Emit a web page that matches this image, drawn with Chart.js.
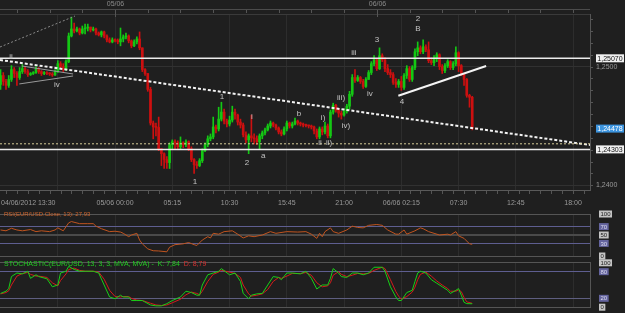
<!DOCTYPE html>
<html>
<head>
<meta charset="utf-8">
<title>EUR/USD 15m</title>
<script src="https://cdn.jsdelivr.net/npm/chart.js@4.4.1/dist/chart.umd.min.js"></script>
<style>
  body { margin: 0; background: #1f1f1f; }
  #wrap { position: relative; width: 625px; height: 313px; overflow: hidden; background: #1f1f1f; }
  #wrap canvas { position: absolute; left: 0; }
</style>
</head>
<body>
<div id="wrap">
  <canvas id="priceChart" width="625" height="210" style="top:0"></canvas>
  <canvas id="rsiChart" width="625" height="54" style="top:206px"></canvas>
  <canvas id="stochChart" width="625" height="55" style="top:258px"></canvas>
</div>
<script>
const FONT = '"Liberation Sans", Arial, sans-serif';
const GREEN = '#14c814', RED = '#cc1010';

// EUR/USD 15 minute bars, bar 0 = 04/06/2012 13:30
const firstOpen = 1.24850;
const closes = [
  1.24925, 1.24875, 1.24842, 1.24892, 1.24975, 1.24942, 1.24908, 1.24958, 1.24983, 1.24958,
  1.24933, 1.24942, 1.24950, 1.24983, 1.24958, 1.24942, 1.24950, 1.24942, 1.24938, 1.24929,
  1.24958, 1.25025, 1.25000, 1.24975, 1.25042, 1.25258, 1.25317, 1.25300, 1.25317, 1.25283,
  1.25317, 1.25325, 1.25333, 1.25308, 1.25317, 1.25283, 1.25267, 1.25292, 1.25258, 1.25225,
  1.25208, 1.25225, 1.25221, 1.25208, 1.25233, 1.25250, 1.25258, 1.25217, 1.25175, 1.25208,
  1.25233, 1.25158, 1.24975, 1.24942, 1.24808, 1.24525, 1.24492, 1.24488, 1.24308, 1.24267,
  1.24217, 1.24192, 1.24342, 1.24367, 1.24358, 1.24325, 1.24358, 1.24342, 1.24367, 1.24308,
  1.24217, 1.24175, 1.24167, 1.24208, 1.24292, 1.24342, 1.24392, 1.24408, 1.24492, 1.24475,
  1.24558, 1.24617, 1.24542, 1.24517, 1.24550, 1.24617, 1.24592, 1.24533, 1.24508, 1.24425,
  1.24383, 1.24417, 1.24400, 1.24392, 1.24367, 1.24417, 1.24442, 1.24467, 1.24500, 1.24525,
  1.24508, 1.24483, 1.24450, 1.24433, 1.24475, 1.24525, 1.24500, 1.24517, 1.24542, 1.24525,
  1.24517, 1.24508, 1.24504, 1.24500, 1.24492, 1.24458, 1.24408, 1.24475, 1.24450, 1.24500,
  1.24417, 1.24617, 1.24675, 1.24633, 1.24608, 1.24592, 1.24625, 1.24667, 1.24767, 1.24908,
  1.24883, 1.24908, 1.24875, 1.24833, 1.24892, 1.24950, 1.25025, 1.25058, 1.24983, 1.25092,
  1.25058, 1.24983, 1.24950, 1.24933, 1.24867, 1.24850, 1.24875, 1.24825, 1.24925, 1.24983,
  1.24892, 1.24992, 1.25125, 1.25158, 1.25125, 1.25167, 1.25142, 1.25050, 1.25033, 1.25075,
  1.25100, 1.25000, 1.24967, 1.25008, 1.25042, 1.24992, 1.25025, 1.25117, 1.25008, 1.24942,
  1.24892, 1.24758, 1.24742, 1.24478
];
const highs = [
  1.24975, 1.24950, 1.24892, 1.24925, 1.25008, 1.24992, 1.24958, 1.24992, 1.25017, 1.25000,
  1.24975, 1.24950, 1.24958, 1.25000, 1.24992, 1.24967, 1.24958, 1.24958, 1.24950, 1.24950,
  1.24975, 1.25050, 1.25042, 1.25025, 1.25058, 1.25283, 1.25417, 1.25367, 1.25333, 1.25325,
  1.25342, 1.25358, 1.25358, 1.25333, 1.25333, 1.25325, 1.25292, 1.25300, 1.25300, 1.25267,
  1.25242, 1.25242, 1.25233, 1.25233, 1.25325, 1.25267, 1.25283, 1.25267, 1.25225, 1.25225,
  1.25250, 1.25292, 1.25158, 1.24983, 1.24942, 1.24825, 1.24542, 1.24525, 1.24575, 1.24308,
  1.24275, 1.24242, 1.24358, 1.24383, 1.24383, 1.24375, 1.24408, 1.24367, 1.24383, 1.24375,
  1.24325, 1.24225, 1.24200, 1.24225, 1.24308, 1.24358, 1.24417, 1.24433, 1.24575, 1.24508,
  1.24658, 1.24700, 1.24642, 1.24558, 1.24583, 1.24667, 1.24642, 1.24600, 1.24558, 1.24525,
  1.24450, 1.24433, 1.24592, 1.24433, 1.24417, 1.24433, 1.24458, 1.24483, 1.24517, 1.24542,
  1.24533, 1.24517, 1.24492, 1.24467, 1.24492, 1.24542, 1.24533, 1.24533, 1.24567, 1.24550,
  1.24533, 1.24525, 1.24517, 1.24508, 1.24508, 1.24500, 1.24475, 1.24492, 1.24492, 1.24533,
  1.24517, 1.24633, 1.24692, 1.24683, 1.24650, 1.24625, 1.24642, 1.24683, 1.24792, 1.24933,
  1.24975, 1.24925, 1.24917, 1.24892, 1.24908, 1.24967, 1.25042, 1.25092, 1.25067, 1.25158,
  1.25108, 1.25075, 1.25017, 1.24975, 1.24950, 1.24900, 1.24892, 1.24917, 1.24942, 1.25008,
  1.25000, 1.25008, 1.25150, 1.25208, 1.25175, 1.25225, 1.25183, 1.25208, 1.25075, 1.25092,
  1.25117, 1.25108, 1.25017, 1.25025, 1.25058, 1.25050, 1.25042, 1.25167, 1.25125, 1.25017,
  1.24942, 1.24900, 1.24767, 1.24750
];
const lows = [
  1.24808, 1.24842, 1.24808, 1.24825, 1.24875, 1.24908, 1.24842, 1.24892, 1.24942, 1.24942,
  1.24917, 1.24925, 1.24933, 1.24942, 1.24942, 1.24925, 1.24933, 1.24933, 1.24925, 1.24917,
  1.24925, 1.24950, 1.24983, 1.24958, 1.24967, 1.25033, 1.25250, 1.25283, 1.25292, 1.25267,
  1.25275, 1.25275, 1.25300, 1.25292, 1.25300, 1.25267, 1.25258, 1.25250, 1.25242, 1.25208,
  1.25200, 1.25200, 1.25208, 1.25192, 1.25175, 1.25208, 1.25233, 1.25200, 1.25158, 1.25167,
  1.25192, 1.25142, 1.24958, 1.24925, 1.24792, 1.24508, 1.24392, 1.24417, 1.24292, 1.24167,
  1.24142, 1.24142, 1.24142, 1.24308, 1.24308, 1.24300, 1.24308, 1.24317, 1.24325, 1.24292,
  1.24200, 1.24100, 1.24142, 1.24158, 1.24192, 1.24283, 1.24325, 1.24375, 1.24392, 1.24442,
  1.24458, 1.24542, 1.24517, 1.24492, 1.24500, 1.24533, 1.24558, 1.24508, 1.24483, 1.24408,
  1.24358, 1.24267, 1.24367, 1.24350, 1.24342, 1.24308, 1.24392, 1.24425, 1.24458, 1.24483,
  1.24492, 1.24467, 1.24433, 1.24417, 1.24425, 1.24458, 1.24483, 1.24483, 1.24508, 1.24508,
  1.24500, 1.24492, 1.24492, 1.24483, 1.24475, 1.24433, 1.24392, 1.24392, 1.24425, 1.24433,
  1.24400, 1.24400, 1.24600, 1.24617, 1.24575, 1.24558, 1.24583, 1.24608, 1.24642, 1.24750,
  1.24867, 1.24875, 1.24858, 1.24817, 1.24825, 1.24892, 1.24933, 1.25008, 1.24967, 1.24975,
  1.25042, 1.24958, 1.24933, 1.24908, 1.24850, 1.24825, 1.24825, 1.24800, 1.24808, 1.24900,
  1.24875, 1.24875, 1.24975, 1.25092, 1.25108, 1.25108, 1.25125, 1.25033, 1.25017, 1.25008,
  1.25042, 1.24975, 1.24942, 1.24950, 1.24992, 1.24975, 1.24975, 1.25008, 1.24958, 1.24925,
  1.24842, 1.24742, 1.24658, 1.24467
];

const timeBars = [0, 42, 63, 84, 105, 126, 147, 168, 189, 210];
const timeLabels = ['04/06/2012 13:30', '05/06 00:00', '05:15', '10:30', '15:45', '21:00', '06/06 02:15', '07:30', '12:45', '18:00'];
const gridBars = [21, 42, 63, 84, 105, 126, 147, 168, 189, 210];
const dateMarks = [[42, '05/06'], [138, '06/06']];
const priceTicks = [1.24, 1.25];

// drawn levels and trend lines (bar, price)
const resistance = 1.25070;
const support = 1.24303;
const supportDotted = 1.24350;
const downTrend = [[-0.2, 1.25056], [216.2, 1.24340]];
const oldTrend = [[-0.2, 1.25165], [27.3, 1.25426]];
const pennantTop = [[7.9, 1.25005], [26.6, 1.24938]];
const pennantBottom = [[6.9, 1.24854], [26.6, 1.24921]];
const riseLine = [[145.9, 1.24755], [178.1, 1.25005]];

const waveLabels = [
  ['ii', 3.8, 1.25081], ['iv', 20.7, 1.24845], ['1', 71.3, 1.24029], ['1', 81.2, 1.24744],
  ['2', 90.4, 1.24189], ['i', 92.2, 1.24576], ['a', 96.3, 1.24248], ['b', 109.5, 1.24601],
  ['ii', 117.2, 1.24357], ['i)', 118.3, 1.24567], ['ii)', 120.5, 1.24357], ['iii)', 124.9, 1.24736],
  ['iv)', 126.7, 1.24500], ['iii', 129.6, 1.25115], ['iv', 135.5, 1.24770], ['3', 138.1, 1.25224],
  ['4', 147.2, 1.24702], ['2', 153.1, 1.25401], ['B', 153.1, 1.25317]
];

const rsiBars = [0,2,4,6,8,11,13,15,18,20,21,23,25,26,29,32,34,35,37,40,42,44,45,47,48,50,51,52,54,56,58,61,62,64,67,69,71,72,74,76,77,78,80,82,85,87,89,91,93,96,99,101,105,109,112,114,116,117,118,119,121,122,124,127,129,131,133,135,138,140,142,145,146,148,149,152,154,155,157,159,161,164,165,167,168,170,172,173];
const rsiValues = [62,60,66,62,60,63,58,60,58,62,67,60,79,82,77,77,77,71,65,58,59,57,54,46,50,54,38,29,17,12.5,12,10,21,27,29,32,27,25,38,46,43,54,52,58,60,52,43,48,46,50,58,54,58,57,58,52,42,54,46,58,67,58,54,62,71,68,67,73,75,73,62,52,52,62,52,60,67,65,58,54,50,52,50,58,48,42,29,27.93];

const stochBars = [0,2,3,4,6,8,10,11,13,14,17,19,21,22,24,25,27,29,31,34,36,38,40,42,44,45,47,48,50,52,55,57,59,61,63,66,68,70,72,73,74,76,78,80,81,84,86,88,89,91,92,94,96,98,100,102,103,105,107,110,112,114,116,118,120,121,122,124,125,127,129,131,133,135,137,140,141,143,145,146,147,149,151,152,153,154,156,158,160,162,164,165,167,168,169,170,171,173];
const stochK = [31,36,42,69,77,75,81,65,73,69,64,46,50,77,81,92,85,81,81,81,77,50,23,19,27,23,23,15,15,15,5,3,3,8,15,23,36,33,27,27,50,73,77,81,87,73,77,58,31,19,27,30,31,50,69,67,62,77,77,75,81,65,41,50,50,65,87,77,69,67,77,77,73,77,90,90,81,46,23,15,15,33,38,58,77,81,77,62,54,46,38,31,38,42,27,11,8,7.84];
const stochD = [30,33,37,50,70,76,78,74,70,70,67,55,48,60,75,85,88,83,81,81,79,63,38,24,23,24,24,20,16,15,9,5,4,5,10,18,28,34,31,28,36,58,74,79,83,79,76,67,50,30,25,27,30,40,58,67,65,70,76,76,78,72,55,46,48,55,72,80,74,69,72,76,75,76,83,90,87,62,35,25,18,24,34,45,62,74,79,70,59,50,42,36,36,39,35,22,12,8.79];

const X_MIN = -0.2, X_MAX = 216.2;
Chart.defaults.font.family = FONT;

const opens = closes.map((c, i) => i === 0 ? firstOpen : closes[i - 1]);
const candleColor = ctx => closes[ctx.dataIndex] >= opens[ctx.dataIndex] ? GREEN : RED;

function seg(points, color, width, dash) {
  return {
    type: 'line',
    data: points.map(p => ({ x: p[0], y: p[1] })),
    borderColor: color, borderWidth: width, borderDash: dash || [],
    pointRadius: 0, fill: false, order: 1
  };
}
const flat = v => [[X_MIN, v], [X_MAX, v]];

function xAxis(height) {
  return {
    type: 'linear', min: X_MIN, max: X_MAX, offset: false,
    afterBuildTicks: s => { s.ticks = gridBars.map(v => ({ value: v })); },
    afterFit: s => { s.height = height; },
    ticks: { display: false },
    grid: { color: '#2d2d2d', drawTicks: false, offset: false },
    border: { display: height > 0, color: '#5a5a5a' }
  };
}

const priceDecor = {
  id: 'priceDecor',
  afterDraw(chart) {
    const { ctx, chartArea: a, scales: { x, y } } = chart;
    const px = v => Math.round(x.getPixelForValue(v)) + 0.5;
    ctx.save();
    ctx.lineWidth = 1;
    ctx.fillStyle = '#4b4b4b';
    ctx.fillRect(0, 9, a.right, 1);
    ctx.fillStyle = '#3a3a3a';
    ctx.fillRect(0, a.top, a.right, 1);
    ctx.strokeStyle = '#555';
    ctx.beginPath();
    for (let b = 6; b < X_MAX; b += 12) { ctx.moveTo(px(b), 10); ctx.lineTo(px(b), 13); }
    for (let b = 2; b < X_MAX; b += 4) { ctx.moveTo(px(b), a.bottom + 1); ctx.lineTo(px(b), a.bottom + 4); }
    for (let k = 0; k <= 14; k++) {
      const yy = Math.round(y.getPixelForValue(1.240 + k * 0.001)) + 0.5;
      ctx.moveTo(a.right, yy); ctx.lineTo(a.right + 3, yy);
    }
    ctx.stroke();

    ctx.font = '7px ' + FONT;
    ctx.fillStyle = '#8c8c8c';
    ctx.textBaseline = 'middle';
    ctx.textAlign = 'center';
    dateMarks.forEach(([b, t]) => {
      ctx.beginPath(); ctx.moveTo(px(b), 10); ctx.lineTo(px(b), 17); ctx.stroke();
      ctx.fillText(t, px(b), 4.5);
    });
    ctx.fillStyle = '#9a9a9a';
    timeBars.forEach((b, k) => {
      ctx.textAlign = k === 0 ? 'left' : 'center';
      ctx.fillText(timeLabels[k], k === 0 ? 1 : x.getPixelForValue(b), 203);
    });

    const tags = [[resistance, '#f0f0f0', '#111'], [closes[closes.length - 1], '#3c94de', '#fff'], [support, '#f0f0f0', '#111']];
    ctx.textAlign = 'center';
    tags.forEach(([v, bg, fg]) => {
      const yy = y.getPixelForValue(v);
      ctx.fillStyle = bg; ctx.fillRect(a.right + 6, yy - 4, 28, 8);
      ctx.fillStyle = fg; ctx.fillText(v.toFixed(5).replace('.', ','), a.right + 20, yy + 0.5);
    });

    ctx.font = '8px ' + FONT;
    ctx.fillStyle = '#c4c4c4';
    waveLabels.forEach(([t, b, p]) => ctx.fillText(t, x.getPixelForValue(b), y.getPixelForValue(p)));
    ctx.restore();
  }
};

new Chart(document.getElementById('priceChart'), {
  type: 'bar',
  data: {
    datasets: [
      seg(flat(resistance), '#ececec', 1.5),
      seg(flat(support), '#ececec', 1.5),
      seg(flat(supportDotted), '#d6cc98', 1, [2, 2]),
      seg(downTrend, '#f4f4f4', 2, [3, 2]),
      seg(oldTrend, '#8a8a8a', 1, [2, 2]),
      seg(pennantTop, '#9a9a9a', 1),
      seg(pennantBottom, '#9a9a9a', 1),
      seg(riseLine, '#f4f4f4', 2),
      { type: 'bar', data: closes.map((c, i) => ({ x: i, y: [opens[i], c] })), backgroundColor: candleColor,
        barThickness: 2, minBarLength: 1, grouped: false, order: 2 },
      { type: 'bar', data: closes.map((c, i) => ({ x: i, y: [lows[i], highs[i]] })), backgroundColor: candleColor,
        barThickness: 1, grouped: false, order: 3 }
    ]
  },
  options: {
    responsive: false, animation: false, devicePixelRatio: 1,
    layout: { padding: { top: 14, left: 0, right: 0, bottom: 0 } },
    plugins: { legend: { display: false }, tooltip: { enabled: false } },
    scales: {
      x: xAxis(20),
      y: {
        position: 'right', min: 1.23961, max: 1.25443,
        afterBuildTicks: s => { s.ticks = priceTicks.map(v => ({ value: v })); },
        afterFit: s => { s.width = 35; },
        ticks: { color: '#9a9a9a', font: { size: 7 }, padding: 6, callback: v => v.toFixed(4).replace('.', ',') },
        grid: { color: '#313131', drawTicks: false },
        border: { color: '#555' }
      }
    }
  },
  plugins: [priceDecor]
});

function panelDecor(id, title, titleSize, titleY, tags) {
  return {
    id,
    afterDraw(chart) {
      const { ctx, chartArea: a, scales: { y } } = chart;
      ctx.save();
      ctx.font = titleSize + 'px ' + FONT;
      ctx.textBaseline = 'middle';
      ctx.textAlign = 'left';
      let tx = 4;
      title.forEach(([t, c]) => { ctx.fillStyle = c; ctx.fillText(t, tx, titleY); tx += ctx.measureText(t).width; });
      ctx.font = '6px ' + FONT;
      tags.forEach(([v, bg, fg]) => {
        const t = String(v), w = ctx.measureText(t).width + 3, yy = y.getPixelForValue(v);
        ctx.fillStyle = bg; ctx.fillRect(a.right + 9, yy - 3.5, w, 7);
        ctx.fillStyle = fg; ctx.fillText(t, a.right + 10.5, yy + 0.5);
      });
      ctx.restore();
    }
  };
}

function panelOptions(levels, levelColor, pad) {
  return {
    responsive: false, animation: false, devicePixelRatio: 1,
    layout: { padding: pad },
    plugins: { legend: { display: false }, tooltip: { enabled: false } },
    scales: {
      x: xAxis(0),
      y: {
        position: 'right', min: 0, max: 100,
        afterBuildTicks: s => { s.ticks = levels.map(v => ({ value: v })); },
        afterFit: s => { s.width = 35; },
        ticks: { display: false },
        grid: { color: c => levelColor[c.tick.value], lineWidth: c => c.tick.value === 50 ? 2 : 1, drawTicks: false },
        border: { color: '#555' }
      }
    }
  };
}

const GREY_TAG = '#c4c4c4', PURPLE_TAG = '#64649e';

new Chart(document.getElementById('rsiChart'), {
  type: 'line',
  data: {
    datasets: [{
      data: rsiBars.map((b, i) => ({ x: b, y: rsiValues[i] })),
      borderColor: '#c0541f', borderWidth: 1, pointRadius: 0, tension: 0
    }]
  },
  options: panelOptions([0, 30, 50, 70, 100], { 0: '#555', 30: '#5e5e90', 50: '#4a4a4a', 70: '#5e5e90', 100: '#555' },
    { top: 8, bottom: 4, left: 0, right: 0 }),
  plugins: [panelDecor('rsiDecor', [['RSI(EUR/USD.Close, 13): 27,93', '#d0662e']], 6, 8.5,
    [[100, GREY_TAG, '#222'], [70, PURPLE_TAG, '#dde'], [50, GREY_TAG, '#222'], [30, PURPLE_TAG, '#dde'], [0, GREY_TAG, '#222']])]
});

new Chart(document.getElementById('stochChart'), {
  type: 'line',
  data: {
    datasets: [
      { data: stochBars.map((b, i) => ({ x: b, y: stochK[i] })), borderColor: '#18d018', borderWidth: 1, pointRadius: 0, tension: 0 },
      { data: stochBars.map((b, i) => ({ x: b, y: stochD[i] })), borderColor: '#d41c1c', borderWidth: 1, pointRadius: 0, tension: 0 }
    ]
  },
  options: panelOptions([0, 20, 80, 100], { 0: '#555', 20: '#5e5e80', 80: '#5e5e90', 100: '#555' },
    { top: 4.8, bottom: 5.8, left: 0, right: 0 }),
  plugins: [panelDecor('stochDecor', [['STOCHASTIC(EUR/USD, 13, 3, 3, MVA, MVA) -  K: 7,84  ', '#22cc22'], ['D: 8,79', '#d83030']], 7, 6.5,
    [[100, GREY_TAG, '#222'], [80, PURPLE_TAG, '#dde'], [20, PURPLE_TAG, '#dde'], [0, GREY_TAG, '#222']])]
});
</script>
</body>
</html>
